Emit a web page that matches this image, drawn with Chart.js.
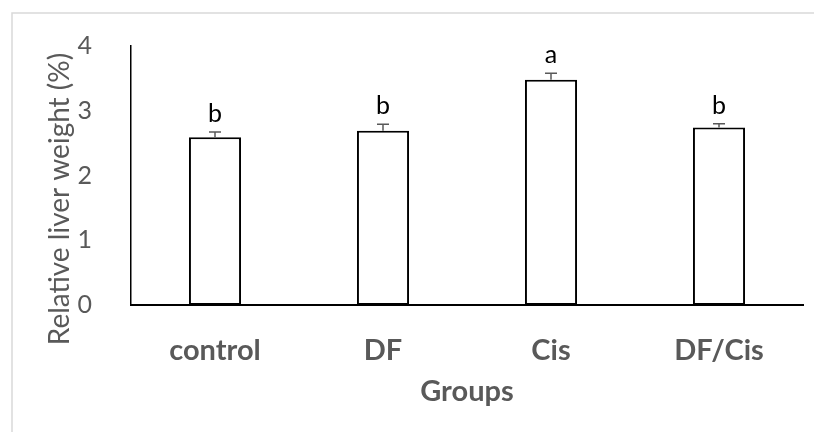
<!DOCTYPE html>
<html>
<head>
<meta charset="utf-8">
<script src="https://cdn.jsdelivr.net/npm/chart.js@4.4.1/dist/chart.umd.min.js"></script>
<style>
  html, body { margin: 0; padding: 0; background: #fff; }
  #wrap { width: 814px; height: 432px; }
</style>
</head>
<body>
<div id="wrap"><canvas id="chart" width="814" height="432"></canvas></div>
<script>
const groups = ['control', 'DF', 'Cis', 'DF/Cis'];
const liverWeight = [2.59, 2.69, 3.48, 2.74];
const stdErr = [0.08, 0.10, 0.10, 0.06];
const letters = ['b', 'b', 'a', 'b'];
const yTicks = [0, 1, 2, 3, 4];

const grey = '#595959';

// frame lines, error bars, significance letters and the y title
const extras = {
  id: 'extras',
  beforeDraw(chart) {
    const ctx = chart.ctx;
    ctx.save();
    ctx.strokeStyle = '#d9d9d9';
    ctx.lineWidth = 1.5;
    ctx.beginPath();
    ctx.moveTo(12, 432);
    ctx.lineTo(12, 13);
    ctx.lineTo(814, 13);
    ctx.stroke();
    ctx.restore();
  },
  afterDatasetsDraw(chart) {
    const ctx = chart.ctx;
    const x = chart.scales.x, y = chart.scales.y;
    ctx.save();
    groups.forEach((g, i) => {
      const cx = x.getPixelForValue(i);
      const top = y.getPixelForValue(liverWeight[i]);
      const et = y.getPixelForValue(liverWeight[i] + stdErr[i]);
      ctx.strokeStyle = grey;
      ctx.lineWidth = 1.5;
      ctx.beginPath();
      ctx.moveTo(cx, top);
      ctx.lineTo(cx, et);
      ctx.moveTo(cx - 6, et);
      ctx.lineTo(cx + 6, et);
      ctx.stroke();
      ctx.fillStyle = '#000';
      ctx.font = '25px Lato';
      ctx.textAlign = 'center';
      ctx.textBaseline = 'alphabetic';
      ctx.fillText(letters[i], cx, et - 10);
    });
    // y axis title
    ctx.translate(60, 199);
    ctx.rotate(-Math.PI / 2);
    ctx.fillStyle = grey;
    ctx.font = '28px Lato';
    ctx.textAlign = 'center';
    ctx.textBaseline = 'middle';
    ctx.fillText('Relative liver weight (%)', 0, 0);
    ctx.restore();
  }
};

new Chart(document.getElementById('chart'), {
  type: 'bar',
  data: {
    labels: groups,
    datasets: [{
      data: liverWeight,
      backgroundColor: '#ffffff',
      borderColor: '#000000',
      borderWidth: 2,
      borderSkipped: false,
      barPercentage: 0.31,
      categoryPercentage: 1.0
    }]
  },
  options: {
    responsive: false,
    animation: false,
    devicePixelRatio: 1,
    layout: { padding: { top: 44, right: 11, left: 0, bottom: 0 } },
    plugins: { legend: { display: false }, tooltip: { enabled: false } },
    scales: {
      x: {
        grid: { display: false },
        border: { display: true, color: '#000', width: 2 },
        ticks: { color: grey, font: { family: 'Lato', size: 29, weight: 'bold' }, padding: 20 },
        title: {
          display: true, text: 'Groups', color: grey,
          font: { family: 'Lato', size: 29, weight: 'bold' },
          padding: { top: 0, bottom: 23 }
        },
        afterFit(s) { s.height = 127; }
      },
      y: {
        min: 0, max: 4,
        grid: { display: false },
        border: { display: true, color: '#000', width: 1.5 },
        afterBuildTicks(s) { s.ticks = yTicks.map(v => ({ value: v })); },
        ticks: { color: grey, font: { family: 'Lato', size: 25 }, padding: 31 },
        afterFit(s) { s.width = 131; }
      }
    }
  },
  plugins: [extras]
});
</script>
</body>
</html>
